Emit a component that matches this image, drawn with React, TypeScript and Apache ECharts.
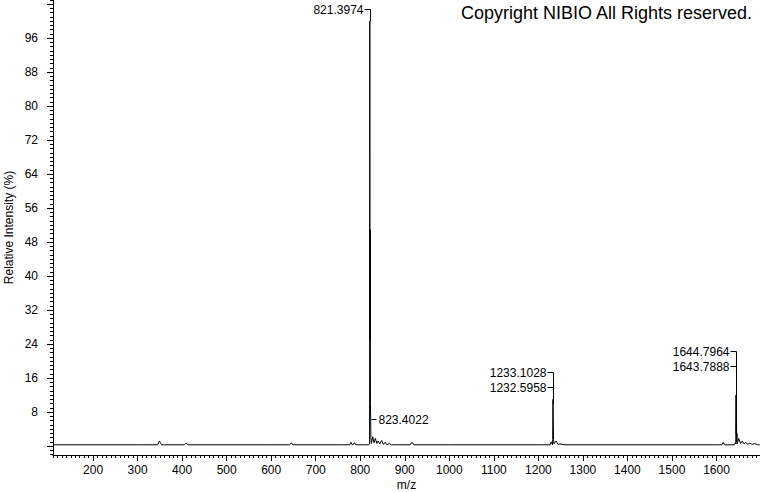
import React, { useEffect, useRef } from 'react';
import * as echarts from 'echarts';

// Profile spectrum (m/z, relative intensity %)
const mzValues = [
  110, 300, 345, 349, 351, 354, 360, 405, 409, 413, 600, 641, 645, 649, 760, 776, 779, 782, 784, 787, 790,
  810, 818, 820.9, 821.4, 821.9, 822.4, 822.9, 823.4, 823.9, 825, 828, 831, 834, 837, 840, 844, 848, 852,
  856, 860, 865, 870, 880, 912, 916, 920, 1000, 1200, 1226, 1229, 1231.6, 1232.1, 1232.6, 1233.1, 1233.6,
  1234.1, 1235, 1240, 1244, 1248, 1260, 1600, 1612, 1615, 1618, 1640, 1642.8, 1643.3, 1643.8, 1644.3,
  1644.8, 1645.3, 1645.8, 1646.3, 1650, 1654, 1658, 1662, 1666, 1670, 1675, 1680, 1686, 1692, 1697,
];
const intensityValues = [
  0.3, 0.3, 0.3, 1.2, 0.8, 0.3, 0.3, 0.3, 0.7, 0.3, 0.3, 0.3, 0.7, 0.3, 0.3, 0.3, 0.9, 0.3, 0.3, 0.8, 0.3,
  0.3, 0.3, 0.5, 100, 25, 51, 10, 6.4, 2, 0.6, 2.2, 0.8, 1.8, 0.6, 1.2, 0.5, 1.3, 0.4,
  0.9, 0.3, 0.6, 0.3, 0.3, 0.3, 0.9, 0.3, 0.3, 0.3, 0.3, 1.0, 0.3, 1.5, 11, 10, 5,
  1.5, 0.5, 1.2, 0.4, 0.5, 0.3, 0.3, 0.3, 0.9, 0.3, 0.3, 0.8, 0.5, 12, 3,
  8, 1, 3, 0.5, 1.8, 0.6, 1.2, 0.5, 0.9, 0.4, 0.7, 0.4, 0.6, 0.3, 0.3,
];

// Peak annotations
const peakLabels = ['821.3974', '823.4022', '1233.1028', '1232.5958', '1644.7964', '1643.7888'];
const peakMz = [821.3974, 823.4022, 1233.1028, 1232.5958, 1644.7964, 1643.7888];
const peakLabelLevel = [102.9, 6.4, 17.4, 13.9, 22.4, 18.8];
const peakTop = [100, 6.4, 10, 11, 8, 12];
const peakLabelSide = [-1, 1, -1, -1, -1, -1];

// Axis ticks / labels
const xMajorTicks = [200, 300, 400, 500, 600, 700, 800, 900, 1000, 1100, 1200, 1300, 1400, 1500, 1600];
const yMajorLabels = [8, 16, 24, 32, 40, 48, 56, 64, 72, 80, 88, 96];
const yMajorTicks = [0, 8, 16, 24, 32, 40, 48, 56, 64, 72, 80, 88, 96, 104];
const xMinorTicks: number[] = [];
for (let v = 110; v <= 1690; v += 10) xMinorTicks.push(v);
const yMinorTicks: number[] = [];
for (let v = -2; v <= 105; v += 1) yMinorTicks.push(v);

const FONT = '"Liberation Sans", Arial, sans-serif';

export default function App() {
  const ref = useRef<HTMLDivElement>(null);
  useEffect(() => {
    const chart = echarts.init(ref.current!, null, { renderer: 'svg' });
    const X_MIN = 110;
    const X_MAX = 1697.7;
    const Y_MIN = -2.1;
    const Y_MAX = 105;
    const black = '#000';
    const spectrum = mzValues.map((m, i) => [m, intensityValues[i]]);
    const annotations = peakMz.map((m, i) => [m, peakLabelLevel[i], peakTop[i], peakLabelSide[i]]);
    const plain = (v: number) => String(v);

    const option: any = {
      animation: false,
      backgroundColor: '#fff',
      grid: { left: 53, top: 0, right: 0, bottom: 37, containLabel: false, outerBoundsMode: 'none' },
      xAxis: [
        {
          type: 'value', min: X_MIN, max: X_MAX, position: 'bottom',
          axisLine: { show: true, onZero: false, lineStyle: { color: black, width: 1 } },
          axisTick: { show: true, length: 6, customValues: xMajorTicks, lineStyle: { color: black } },
          axisLabel: { customValues: xMajorTicks, formatter: plain, color: black, fontSize: 12, fontFamily: FONT, margin: 9 },
          splitLine: { show: false },
          name: 'm/z', nameLocation: 'middle', nameGap: 24, nameMoveOverlap: false,
          nameTextStyle: { color: black, fontSize: 12, fontFamily: FONT, lineHeight: 12 },
        },
        {
          type: 'value', min: X_MIN, max: X_MAX, position: 'bottom',
          axisLine: { show: false, onZero: false },
          axisTick: { show: true, length: 3, customValues: xMinorTicks, lineStyle: { color: black } },
          axisLabel: { show: false },
          splitLine: { show: false },
        },
      ],
      yAxis: [
        {
          type: 'value', min: Y_MIN, max: Y_MAX, position: 'left',
          axisLine: { show: true, onZero: false, lineStyle: { color: black, width: 1 } },
          axisTick: { show: true, length: 6, customValues: yMajorTicks, lineStyle: { color: black } },
          axisLabel: { customValues: yMajorLabels, formatter: plain, color: black, fontSize: 12, fontFamily: FONT, margin: 15 },
          splitLine: { show: false },
          name: 'Relative Intensity (%)', nameLocation: 'middle', nameGap: 38, nameMoveOverlap: false,
          nameTextStyle: { color: black, fontSize: 12, fontFamily: FONT },
        },
        {
          type: 'value', min: Y_MIN, max: Y_MAX, position: 'left',
          axisLine: { show: false, onZero: false },
          axisTick: { show: true, length: 3, customValues: yMinorTicks, lineStyle: { color: black } },
          axisLabel: { show: false },
          splitLine: { show: false },
        },
      ],
      graphic: [
        {
          type: 'text', right: 7, top: 4,
          style: { text: 'Copyright NIBIO All Rights reserved.', font: '18px ' + FONT, fill: black },
        },
      ],
      series: [
        {
          type: 'line', xAxisIndex: 0, yAxisIndex: 0, data: spectrum,
          showSymbol: false, symbol: 'none', silent: true,
          lineStyle: { color: black, width: 1 },
        },
        {
          type: 'custom', xAxisIndex: 0, yAxisIndex: 0, data: annotations, clip: false, silent: true,
          encode: { x: 0, y: 1 },
          renderItem: (params: any, api: any) => {
            const mz = api.value(0);
            const ly = api.value(1);
            const py = api.value(2);
            const side = api.value(3);
            const a = api.coord([mz, ly]);
            const b = api.coord([mz, py]);
            const x = Math.round(a[0]) + 0.5;
            const y = Math.round(a[1]) + 0.5;
            const yb = Math.round(b[1]) + 0.5;
            const text = peakLabels[params.dataIndex];
            const children: any[] = [];
            if (side < 0) {
              children.push({ type: 'line', shape: { x1: x - 6, y1: y, x2: x, y2: y }, style: { stroke: black, lineWidth: 1 } });
              children.push({ type: 'text', style: { text, x: x - 7, y: y, align: 'right', verticalAlign: 'middle', font: '12px ' + FONT, fill: black } });
            } else {
              children.push({ type: 'line', shape: { x1: x, y1: y, x2: x + 5, y2: y }, style: { stroke: black, lineWidth: 1 } });
              children.push({ type: 'text', style: { text, x: x + 7, y: y, align: 'left', verticalAlign: 'middle', font: '12px ' + FONT, fill: black } });
            }
            if (Math.abs(yb - y) > 0.5) {
              children.push({ type: 'line', shape: { x1: x, y1: y, x2: x, y2: yb }, style: { stroke: black, lineWidth: 1 } });
            }
            return { type: 'group', children };
          },
        },
      ],
    };
    chart.setOption(option);
    return () => chart.dispose();
  }, []);
  return (
    <div
      ref={ref}
      style={{ position: 'absolute', left: 0, top: 0, width: 760, height: 492, background: '#fff' }}
    />
  );
}
